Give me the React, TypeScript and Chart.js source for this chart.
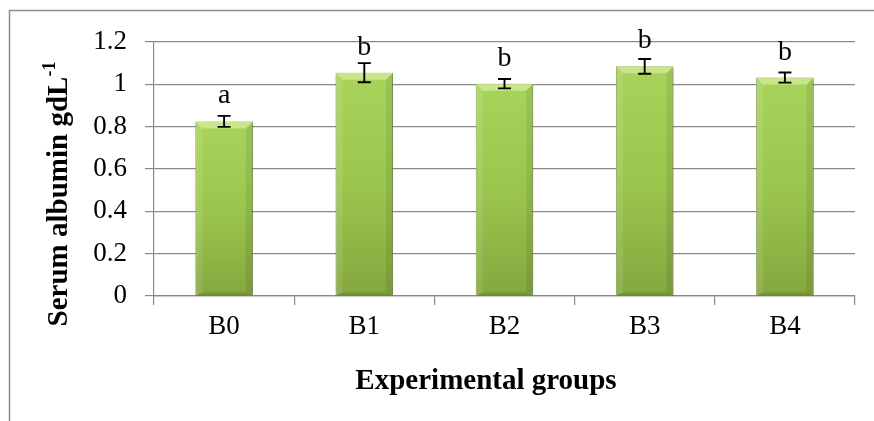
import React, { useEffect, useRef } from "react";
import { Chart, registerables } from "chart.js";

Chart.register(...registerables);

const categories = ["B0", "B1", "B2", "B3", "B4"];
const albumin = [0.825, 1.055, 1.003, 1.085, 1.032];
const errors = [0.026, 0.045, 0.022, 0.035, 0.024];
const letters = ["a", "b", "b", "b", "b"];
const yMin = 0;
const yMax = 1.2;
const yStep = 0.2;
const yTitle = "Serum albumin gdL";
const yTitleSup = "-1";
const xTitle = "Experimental groups";

const FONT = "'Liberation Serif', 'Times New Roman', serif";
const GRID = "#8a8a8a";

const decorPlugin = {
  id: "decor",
  beforeDraw(chart: any) {
    const ctx = chart.ctx;
    ctx.save();
    ctx.strokeStyle = "#8c8c8c";
    ctx.lineWidth = 1.5;
    ctx.beginPath();
    ctx.moveTo(9.5, chart.height);
    ctx.lineTo(9.5, 10.5);
    ctx.lineTo(chart.width, 10.5);
    ctx.stroke();
    ctx.restore();
  },
  beforeDatasetsDraw(chart: any) {
    const ctx = chart.ctx;
    ctx.save();
    ctx.shadowColor = "rgba(0,0,0,0.35)";
    ctx.shadowBlur = 4;
    ctx.shadowOffsetX = 1;
    ctx.shadowOffsetY = 2;
  },
  afterDatasetsDraw(chart: any) {
    const ctx = chart.ctx;
    ctx.restore();
    const meta = chart.getDatasetMeta(0);
    const yScale = chart.scales.y;
    ctx.save();
    meta.data.forEach((bar: any, i: number) => {
      const w = bar.width;
      const l = bar.x - w / 2;
      const r = bar.x + w / 2;
      const t = bar.y;
      const b = bar.base;
      const bv = 7;
      // top bevel
      ctx.fillStyle = "rgba(222,242,170,0.6)";
      ctx.beginPath();
      ctx.moveTo(l, t);
      ctx.lineTo(r, t);
      ctx.lineTo(r - bv, t + bv);
      ctx.lineTo(l + bv, t + bv);
      ctx.closePath();
      ctx.fill();
      // left bevel
      ctx.fillStyle = "rgba(255,255,255,0.10)";
      ctx.beginPath();
      ctx.moveTo(l, t);
      ctx.lineTo(l + bv, t + bv);
      ctx.lineTo(l + bv, b - 3);
      ctx.lineTo(l, b);
      ctx.closePath();
      ctx.fill();
      // right bevel
      ctx.fillStyle = "rgba(0,0,0,0.08)";
      ctx.beginPath();
      ctx.moveTo(r, t);
      ctx.lineTo(r - bv, t + bv);
      ctx.lineTo(r - bv, b - 3);
      ctx.lineTo(r, b);
      ctx.closePath();
      ctx.fill();
      // bottom bevel
      ctx.fillStyle = "rgba(0,0,0,0.12)";
      ctx.beginPath();
      ctx.moveTo(l, b);
      ctx.lineTo(l + bv, b - 3);
      ctx.lineTo(r - bv, b - 3);
      ctx.lineTo(r, b);
      ctx.closePath();
      ctx.fill();

      // error bar
      const v = albumin[i];
      const e = errors[i];
      const yTop = yScale.getPixelForValue(v + e);
      const yBot = yScale.getPixelForValue(v - e);
      ctx.strokeStyle = "#000";
      ctx.lineWidth = 1.9;
      ctx.beginPath();
      ctx.moveTo(bar.x, yTop);
      ctx.lineTo(bar.x, yBot);
      ctx.moveTo(bar.x - 6.5, yTop);
      ctx.lineTo(bar.x + 6.5, yTop);
      ctx.moveTo(bar.x - 6.5, yBot);
      ctx.lineTo(bar.x + 6.5, yBot);
      ctx.stroke();

      // letter
      ctx.fillStyle = "#000";
      ctx.font = `28px ${FONT}`;
      ctx.textAlign = "center";
      ctx.textBaseline = "alphabetic";
      ctx.fillText(letters[i], bar.x, t - 18);
    });
    ctx.restore();
  },
  afterDraw(chart: any) {
    const ctx = chart.ctx;
    ctx.save();
    ctx.fillStyle = "#000";
    // x title
    ctx.font = `bold 29px ${FONT}`;
    ctx.textAlign = "center";
    ctx.textBaseline = "alphabetic";
    ctx.fillText(xTitle, 486, 389);
    // y title (rotated) with superscript
    const mainFont = `bold 29px ${FONT}`;
    const supFont = `bold 18px ${FONT}`;
    ctx.font = mainFont;
    const wMain = ctx.measureText(yTitle).width;
    ctx.font = supFont;
    const wSup = ctx.measureText(yTitleSup).width;
    const total = wMain + wSup;
    const cy = 194;
    ctx.translate(67, cy);
    ctx.rotate(-Math.PI / 2);
    ctx.textAlign = "left";
    ctx.font = mainFont;
    ctx.fillText(yTitle, -total / 2, 0);
    ctx.font = supFont;
    ctx.fillText(yTitleSup, -total / 2 + wMain, -12);
    ctx.restore();
  },
};

export default function App() {
  const canvasRef = useRef<HTMLCanvasElement | null>(null);

  useEffect(() => {
    const canvas = canvasRef.current;
    if (!canvas) return;
    const chart = new Chart(canvas, {
      type: "bar",
      data: {
        labels: categories,
        datasets: [
          {
            data: albumin,
            backgroundColor: (c: any) => {
              const ch = c.chart;
              const area = ch.chartArea;
              if (!area) return "#9bc84a";
              const ys = ch.scales.y;
              const v = albumin[c.dataIndex] ?? 1;
              const top = ys.getPixelForValue(v);
              const g = ch.ctx.createLinearGradient(0, top, 0, area.bottom);
              g.addColorStop(0, "#a9d45c");
              g.addColorStop(0.5, "#9bc64e");
              g.addColorStop(1, "#84a73e");
              return g;
            },
            borderColor: "#7e9e3a",
            borderWidth: 0.8,
            categoryPercentage: 1,
            barPercentage: 0.41,
          },
        ],
      },
      options: {
        responsive: true,
        maintainAspectRatio: false,
        animation: false,
        events: [],
        layout: { padding: { top: 42, right: 19, left: 0, bottom: 0 } },
        plugins: {
          legend: { display: false },
          tooltip: { enabled: false },
          title: { display: false },
        },
        scales: {
          x: {
            grid: {
              offset: true,
              drawOnChartArea: false,
              drawTicks: true,
              tickLength: 9,
              color: GRID,
              lineWidth: 1.2,
            },
            border: { color: GRID, width: 1.2 },
            ticks: {
              color: "#000",
              font: { family: FONT, size: 27 },
              padding: 6,
              maxRotation: 0,
            },
            afterFit: (s: any) => {
              s.height = 125;
            },
          },
          y: {
            min: yMin,
            max: yMax,
            grid: {
              color: GRID,
              lineWidth: 1.2,
              drawTicks: true,
              tickLength: 9,
            },
            border: { color: GRID, width: 1.2 },
            ticks: {
              stepSize: yStep,
              color: "#000",
              font: { family: FONT, size: 27 },
              padding: 18,
              callback: (v: any) => String(Math.round(Number(v) * 10) / 10),
            },
            afterFit: (s: any) => {
              s.width = 154;
            },
          },
        },
      },
      plugins: [decorPlugin],
    });
    return () => chart.destroy();
  }, []);

  return (
    <div style={{ position: "absolute", left: 0, top: 0, width: 874, height: 421, background: "#fff" }}>
      <canvas ref={canvasRef} />
    </div>
  );
}
